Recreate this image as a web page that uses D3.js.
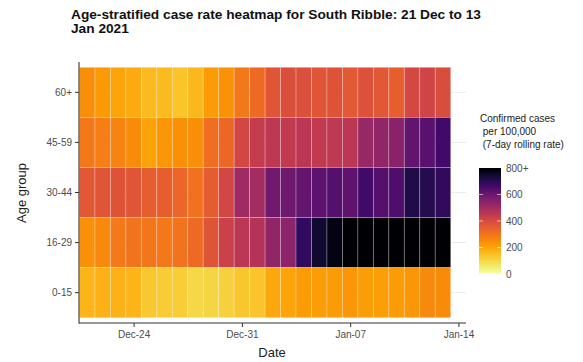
<!DOCTYPE html>
<html>
<head>
<meta charset="utf-8">
<style>
body { margin: 0; background: white; }
text { font-family: "Liberation Sans", Arial, sans-serif; }
.tick text { fill: #4d4d4d; font-size: 10px; }
.tick line { stroke: #333; }
</style>
</head>
<body>
<div id="mainDiv" style="width: 583px; height: 362px; background-color: white;"></div>

<script src="https://d3js.org/d3.v7.min.js"></script>

<script>

var width = 583;
var height = 362;

// data
var dates = ["2020-12-21","2020-12-22","2020-12-23","2020-12-24","2020-12-25","2020-12-26",
  "2020-12-27","2020-12-28","2020-12-29","2020-12-30","2020-12-31","2021-01-01",
  "2021-01-02","2021-01-03","2021-01-04","2021-01-05","2021-01-06","2021-01-07",
  "2021-01-08","2021-01-09","2021-01-10","2021-01-11","2021-01-12","2021-01-13"];
var ageGroups = ["60+", "45-59", "30-44", "16-29", "0-15"];
var rate60plus = [245,222,202,190,160,158,140,162,220,238,291,318,373,391,385,370,377,362,382,365,345,405,418,392];
var rate45to59 = [290,275,265,250,205,225,240,245,310,325,410,440,452,445,455,445,450,455,520,535,545,615,630,665];
var rate30to44 = [365,370,380,370,350,345,330,305,355,410,505,500,590,592,610,625,635,620,665,635,645,715,710,693];
var rate16to29 = [240,255,285,300,295,290,300,320,375,425,455,470,535,540,690,745,775,850,880,900,910,905,890,870];
var rate0to15  = [170,175,175,170,130,125,120,100,105,110,135,140,195,200,218,215,220,230,215,212,220,225,255,250];
var legendTicks = [0, 200, 400, 600, 800];
var dateTicks = ["2020-12-24", "2020-12-31", "2021-01-07", "2021-01-14"];

var parse = d3.timeParse("%Y-%m-%d");
var series = [rate60plus, rate45to59, rate30to44, rate16to29, rate0to15];
var cells = [];
ageGroups.forEach(function(g, i) {
  dates.forEach(function(d, j) {
    cells.push({ age: g, date: parse(d), value: series[i][j] });
  });
});

var svg = d3.select("#mainDiv").append("svg")
    .attr("width", width)
    .attr("height", height);

var x = d3.scaleTime()
    .domain([d3.timeHour.offset(parse(dates[0]), -12), d3.timeHour.offset(parse(dates[dates.length - 1]), 12)])
    .range([79.5, 450.7]);

var y = d3.scaleBand()
    .domain(ageGroups)
    .range([67.3, 317.7]);

// inferno, reversed, 800+ capped
var tScale = d3.scaleLinear().domain(legendTicks).range([1, 0.8, 0.58, 0.3, 0]).clamp(true);
function fill(v) { return d3.interpolateInferno(tScale(v)); }

// grid lines
svg.append("g").selectAll("line")
  .data(ageGroups)
  .enter().append("line")
    .attr("x1", 79).attr("x2", 466)
    .attr("y1", function(d) { return y(d) + y.bandwidth() / 2; })
    .attr("y2", function(d) { return y(d) + y.bandwidth() / 2; })
    .attr("stroke", "#ebebeb")
    .attr("stroke-width", 1);

// tiles
svg.append("g").selectAll("rect")
  .data(cells)
  .enter().append("rect")
    .attr("x", function(d) { return x(d3.timeHour.offset(d.date, -12)); })
    .attr("width", function(d) { return x(d3.timeHour.offset(d.date, 12)) - x(d3.timeHour.offset(d.date, -12)); })
    .attr("y", function(d) { return y(d.age); })
    .attr("height", y.bandwidth())
    .attr("fill", function(d) { return fill(d.value); })
    .attr("stroke", "white")
    .attr("stroke-opacity", 0.3)
    .attr("stroke-width", 0.8);

// axes
var xAxis = svg.append("g")
    .attr("transform", "translate(0,323)")
    .call(d3.axisBottom(x)
      .tickValues(dateTicks.map(parse))
      .tickFormat(d3.timeFormat("%b-%d"))
      .tickSize(4)
      .tickPadding(4));
xAxis.select(".domain").remove();

var yAxis = svg.append("g")
    .attr("transform", "translate(79,0)")
    .call(d3.axisLeft(y).tickSize(4).tickPadding(3));
yAxis.select(".domain").remove();

svg.append("line")
    .attr("x1", 79).attr("x2", 466).attr("y1", 323).attr("y2", 323)
    .attr("stroke", "#333").attr("stroke-width", 1.1);
svg.append("line")
    .attr("x1", 79).attr("x2", 79).attr("y1", 62).attr("y2", 323.5)
    .attr("stroke", "#333").attr("stroke-width", 1.1);

// titles
svg.append("text")
    .attr("x", 71).attr("y", 19)
    .style("font-weight", "bold").style("font-size", "13.7px").attr("fill", "#111")
    .text("Age-stratified case rate heatmap for South Ribble: 21 Dec to 13");
svg.append("text")
    .attr("x", 71).attr("y", 33)
    .style("font-weight", "bold").style("font-size", "13.7px").attr("fill", "#111")
    .text("Jan 2021");

svg.append("text")
    .attr("x", 272).attr("y", 357)
    .attr("text-anchor", "middle")
    .style("font-size", "13px").attr("fill", "#222")
    .text("Date");

svg.append("text")
    .attr("transform", "translate(26,193) rotate(-90)")
    .attr("text-anchor", "middle")
    .style("font-size", "13px").attr("fill", "#222")
    .text("Age group");

// legend
var legendTitle = ["Confirmed cases", " per 100,000", " (7-day rolling rate)"];
svg.append("g").selectAll("text")
  .data(legendTitle)
  .enter().append("text")
    .attr("x", 480)
    .attr("y", function(d, i) { return 122 + i * 13; })
    .style("font-size", "10px").attr("fill", "#222")
    .style("white-space", "pre")
    .text(function(d) { return d; });

var ly = d3.scaleLinear().domain([0, 800]).range([274, 168]);

var grad = svg.append("defs").append("linearGradient")
    .attr("id", "lg").attr("x1", 0).attr("x2", 0).attr("y1", 1).attr("y2", 0);
grad.selectAll("stop")
  .data(d3.range(0, 801, 20))
  .enter().append("stop")
    .attr("offset", function(d) { return d / 800; })
    .attr("stop-color", function(d) { return fill(d); });

svg.append("rect")
    .attr("x", 479).attr("y", ly(800))
    .attr("width", 22).attr("height", ly(0) - ly(800))
    .attr("fill", "url(#lg)");

var lt = svg.append("g").selectAll("g")
  .data(legendTicks)
  .enter().append("g");
lt.filter(function(d) { return d > 0 && d < 800; }).append("line")
    .attr("x1", 479).attr("x2", 483)
    .attr("y1", function(d) { return ly(d); }).attr("y2", function(d) { return ly(d); })
    .attr("stroke", "white").attr("stroke-opacity", 0.6);
lt.filter(function(d) { return d > 0 && d < 800; }).append("line")
    .attr("x1", 497).attr("x2", 501)
    .attr("y1", function(d) { return ly(d); }).attr("y2", function(d) { return ly(d); })
    .attr("stroke", "white").attr("stroke-opacity", 0.6);
lt.append("text")
    .attr("x", 506)
    .attr("y", function(d) { return ly(d); })
    .attr("dy", "0.35em")
    .style("font-size", "10px").attr("fill", "#4d4d4d")
    .text(function(d) { return d === 800 ? "800+" : d; });

</script>
</body>
</html>
